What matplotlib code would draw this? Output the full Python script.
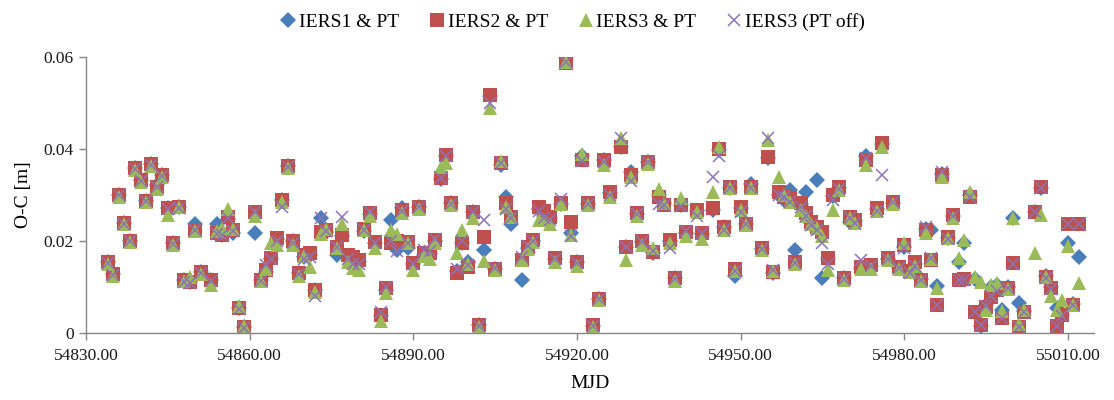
import matplotlib
matplotlib.use("Agg")
import matplotlib.pyplot as plt
from matplotlib.ticker import FuncFormatter

# Observation epochs (MJD) and O-C residuals [m] for each processing variant
mjd = [54834, 54835, 54836, 54837, 54838, 54839, 54840, 54841, 54842, 54843,
       54844, 54845, 54846, 54847, 54848, 54849, 54850, 54851, 54853, 54854,
       54855, 54856, 54857, 54858, 54859, 54861, 54862, 54863, 54864, 54865,
       54866, 54867, 54868, 54869, 54870, 54871, 54872, 54873, 54874, 54876,
       54877, 54878, 54879, 54880, 54881, 54882, 54883, 54884, 54885, 54886,
       54887, 54888, 54889, 54890, 54891, 54892, 54893, 54894, 54895, 54896,
       54897, 54898, 54899, 54900, 54901, 54902, 54903, 54904, 54905, 54906,
       54907, 54908, 54910, 54911, 54912, 54913, 54914, 54915, 54916, 54917,
       54918, 54919, 54920, 54921, 54922, 54923, 54924, 54925, 54926, 54928,
       54929, 54930, 54931, 54932, 54933, 54934, 54935, 54936, 54937, 54938,
       54939, 54940, 54942, 54943, 54945, 54946, 54947, 54948, 54949, 54950,
       54951, 54952, 54954, 54955, 54956, 54957, 54958, 54959, 54960, 54961,
       54962, 54963, 54964, 54965, 54966, 54967, 54968, 54969, 54970, 54971,
       54972, 54973, 54974, 54975, 54976, 54977, 54978, 54979, 54980, 54981,
       54982, 54983, 54984, 54985, 54986, 54987, 54988, 54989, 54990, 54991,
       54992, 54993, 54994, 54995, 54996, 54997, 54998, 54999, 55000, 55001,
       55002, 55004, 55005, 55006, 55007, 55008, 55009, 55010, 55011, 55012]

iers2_pt = [.0154, .0128, .0300, .0240, .0201, .0358, .0333, .0288, .0367, .0318,
            .0343, .0271, .0195, .0273, .0115, .0110, .0224, .0132, .0115, .0218,
            .0212, .0252, .0224, .0054, .0013, .0264, .0115, .0137, .0162, .0206,
            .0289, .0362, .0199, .0130, .0170, .0173, .0093, .0220, .0224, .0188,
            .0213, .0170, .0165, .0159, .0227, .0260, .0198, .0039, .0097, .0195,
            .0200, .0267, .0198, .0152, .0275, .0173, .0175, .0202, .0336, .0387,
            .0282, .0130, .0195, .0144, .0264, .0017, .0209, .0517, .0140, .0369,
            .0282, .0253, .0159, .0188, .0202, .0275, .0265, .0253, .0162, .0282,
            .0586, .0242, .0155, .0376, .0282, .0017, .0075, .0376, .0307, .0405,
            .0188, .0343, .0260, .0199, .0372, .0177, .0296, .0278, .0202, .0119,
            .0278, .0220, .0267, .0217, .0271, .0401, .0231, .0318, .0140, .0275,
            .0238, .0318, .0184, .0383, .0133, .0307, .0296, .0293, .0155, .0282,
            .0260, .0242, .0231, .0220, .0162, .0300, .0318, .0119, .0253, .0246,
            .0144, .0376, .0148, .0271, .0412, .0162, .0285, .0144, .0191, .0135,
            .0155, .0115, .0224, .0159, .0061, .0343, .0208, .0257, .0115, .0118,
            .0296, .0046, .0017, .0057, .0079, .0093, .0032, .0097, .0152, .0014,
            .0046, .0264, .0318, .0122, .0097, .0015, .0039, .0238, .0061, .0238]

iers1_pt = [.0154, .0128, .0300, .0240, .0201, .0358, .0333, .0288, .0367, .0322,
            .0343, .0271, .0195, .0273, .0115, .0110, .0236, .0132, .0115, .0236,
            .0214, .0248, .0218, .0054, .0013, .0218, .0115, .0132, .0160, .0204,
            .0289, .0362, .0199, .0130, .0165, .0170, .0093, .0249, .0220, .0170,
            .0210, .0168, .0150, .0155, .0222, .0258, .0195, .0037, .0094, .0246,
            .0180, .0272, .0185, .0150, .0275, .0170, .0172, .0200, .0335, .0385,
            .0282, .0135, .0195, .0155, .0262, .0017, .0180, .0515, .0140, .0365,
            .0296, .0236, .0115, .0185, .0200, .0270, .0255, .0250, .0160, .0280,
            .0601, .0218, .0155, .0385, .0280, .0015, .0075, .0376, .0305, .0405,
            .0186, .0350, .0258, .0197, .0372, .0175, .0300, .0282, .0200, .0119,
            .0278, .0218, .0265, .0215, .0268, .0398, .0231, .0315, .0124, .0272,
            .0236, .0323, .0182, .0380, .0130, .0300, .0290, .0310, .0180, .0280,
            .0307, .0240, .0333, .0119, .0160, .0298, .0315, .0119, .0242, .0244,
            .0142, .0385, .0146, .0270, .0410, .0160, .0283, .0142, .0188, .0138,
            .0150, .0118, .0226, .0224, .0103, .0345, .0206, .0255, .0155, .0195,
            .0300, .0118, .0015, .0060, .0100, .0105, .0050, .0101, .0250, .0065,
            .0048, .0262, .0315, .0125, .0100, .0055, .0040, .0195, .0062, .0166]

iers3_pt = [.0150, .0124, .0296, .0236, .0197, .0354, .0328, .0285, .0362, .0314,
            .0340, .0257, .0192, .0275, .0112, .0121, .0222, .0128, .0105, .0222,
            .0228, .0270, .0226, .0058, .0016, .0255, .0112, .0140, .0195, .0192,
            .0285, .0358, .0192, .0125, .0168, .0144, .0090, .0215, .0226, .0185,
            .0236, .0155, .0142, .0137, .0225, .0255, .0185, .0026, .0088, .0224,
            .0215, .0260, .0195, .0137, .0270, .0168, .0160, .0195, .0360, .0370,
            .0278, .0173, .0224, .0150, .0250, .0014, .0157, .0490, .0138, .0375,
            .0275, .0252, .0159, .0182, .0198, .0246, .0245, .0236, .0155, .0280,
            .0590, .0212, .0145, .0390, .0278, .0014, .0072, .0365, .0296, .0423,
            .0159, .0340, .0255, .0192, .0368, .0185, .0312, .0282, .0195, .0112,
            .0293, .0210, .0262, .0205, .0307, .0405, .0225, .0315, .0135, .0268,
            .0234, .0315, .0180, .0420, .0135, .0340, .0300, .0285, .0150, .0268,
            .0255, .0238, .0228, .0210, .0137, .0268, .0310, .0115, .0250, .0240,
            .0140, .0365, .0140, .0265, .0405, .0158, .0280, .0140, .0195, .0133,
            .0145, .0112, .0218, .0160, .0098, .0340, .0206, .0250, .0162, .0202,
            .0307, .0122, .0110, .0050, .0104, .0108, .0047, .0095, .0249, .0020,
            .0050, .0173, .0257, .0122, .0080, .0050, .0072, .0190, .0060, .0108]

iers3_pt_off = [.0152, .0127, .0299, .0238, .0200, .0356, .0331, .0287, .0365, .0317,
                .0342, .0269, .0194, .0271, .0110, .0108, .0223, .0131, .0112, .0215,
                .0213, .0250, .0222, .0052, .0010, .0262, .0114, .0148, .0160, .0200,
                .0275, .0360, .0196, .0128, .0160, .0165, .0080, .0250, .0222, .0186,
                .0253, .0160, .0150, .0150, .0225, .0262, .0196, .0045, .0100, .0200,
                .0178, .0265, .0196, .0150, .0273, .0180, .0178, .0205, .0338, .0385,
                .0280, .0140, .0200, .0148, .0262, .0015, .0246, .0500, .0142, .0370,
                .0270, .0250, .0165, .0190, .0200, .0265, .0250, .0245, .0160, .0292,
                .0590, .0210, .0152, .0375, .0280, .0016, .0073, .0372, .0300, .0425,
                .0186, .0330, .0258, .0198, .0372, .0178, .0280, .0278, .0185, .0118,
                .0276, .0222, .0255, .0218, .0340, .0385, .0224, .0316, .0135, .0262,
                .0236, .0316, .0182, .0423, .0138, .0300, .0295, .0285, .0152, .0275,
                .0255, .0235, .0225, .0196, .0150, .0290, .0312, .0118, .0250, .0240,
                .0159, .0380, .0146, .0265, .0343, .0160, .0285, .0142, .0185, .0130,
                .0145, .0115, .0230, .0162, .0060, .0350, .0205, .0255, .0115, .0115,
                .0295, .0045, .0018, .0058, .0080, .0092, .0033, .0097, .0150, .0014,
                .0045, .0262, .0316, .0120, .0096, .0015, .0038, .0238, .0060, .0238]

series = [
    ("IERS1 & PT", iers1_pt, dict(marker="D", color="#4A7EBB", ms=7.8, mew=0)),
    ("IERS2 & PT", iers2_pt, dict(marker="s", color="#C0504D", ms=9.8, mew=0)),
    ("IERS3 & PT", iers3_pt, dict(marker="^", color="#9BBB59", ms=10.5, mew=0)),
    ("IERS3 (PT off)", iers3_pt_off, dict(marker="x", color="#8C73B8", ms=9.0, mew=1.1)),
]

plt.rcParams["font.family"] = ["Liberation Serif", "DejaVu Serif"]

fig = plt.figure(figsize=(11.14, 4.0), dpi=100)
ax = fig.add_axes([86 / 1114, 1 - 333 / 400, (1094 - 86) / 1114, (333 - 57) / 400])

for label, vals, style in series:
    ax.plot(mjd, vals, linestyle="none", label=label, **style)

ax.set_xlim(54830, 55014.8)
ax.set_ylim(0, 0.06)
ax.set_xticks([54830, 54860, 54890, 54920, 54950, 54980, 55010])
ax.set_yticks([0, 0.02, 0.04, 0.06])
ax.xaxis.set_major_formatter(FuncFormatter(lambda v, p: f"{v:.2f}"))
ax.yaxis.set_major_formatter(FuncFormatter(lambda v, p: "0" if v == 0 else f"{v:.2f}"))

for side in ("top", "right"):
    ax.spines[side].set_visible(False)
for side in ("left", "bottom"):
    ax.spines[side].set_color("#868686")
    ax.spines[side].set_linewidth(1.0)
ax.tick_params(axis="both", direction="out", length=5, width=1.0, color="#868686",
               labelsize=12.5, labelcolor="#1a1a1a")
ax.tick_params(axis="x", pad=6)
ax.tick_params(axis="y", pad=4)

ax.set_xlabel("MJD", fontsize=14, labelpad=8)
ax.set_ylabel("O-C [m]", fontsize=14, labelpad=8)

fig.legend(loc="center", bbox_to_anchor=(573 / 1114, 1 - 22 / 400), ncol=4,
           frameon=False, fontsize=14, handlelength=0.7, handletextpad=0.2,
           columnspacing=1.6, borderaxespad=0)

fig.savefig("out.png", dpi=100)
